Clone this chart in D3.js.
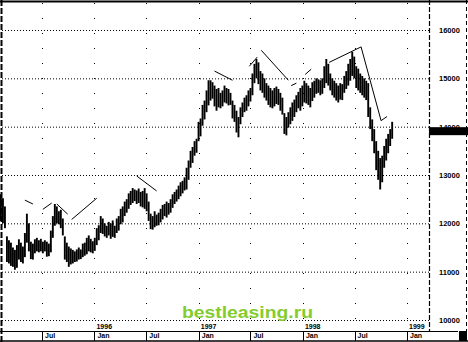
<!doctype html>
<html lang="en">
<head>
<meta charset="utf-8">
<title>Index chart 1995-1998</title>
<script src="https://d3js.org/d3.v7.min.js"></script>
<style>
  body { margin: 0; background: #fff; }
  svg text { font-family: "Liberation Sans", Arial, sans-serif; }
</style>
</head>
<body>
<svg width="468" height="342"></svg>
<script>
// weekly bars, first week starts here
var firstWeek = new Date(1995, 1, 4);

var highs = [12600,12520,12350,11730,11650,11600,11500,11450,11550,11670,
  11600,11520,11800,12200,12000,11620,11580,11670,11700,11650,
  11680,11620,11650,11620,11580,11850,12150,12400,12350,12250,
  12280,12100,11730,11600,11520,11480,11450,11420,11460,11500,
  11460,11580,11600,11700,11750,11680,11630,11700,11900,11960,
  12150,12100,12000,11950,12030,12000,12060,11950,12100,12150,
  12300,12350,12450,12500,12620,12670,12730,12700,12680,12720,
  12650,12670,12730,12620,12450,12200,12150,12250,12180,12220,
  12300,12380,12400,12450,12420,12500,12600,12650,12700,12780,
  12850,12880,12950,13150,13300,13500,13580,13700,13750,14100,
  14170,14450,14540,14750,14960,14960,14920,14850,14780,14800,
  14700,14750,14850,14800,14780,14700,14540,14450,14330,14200,
  14400,14500,14600,14650,14750,14800,15100,15300,15400,15330,
  15150,15100,15000,14900,14850,14800,14750,14800,14830,14780,
  14700,14600,14280,14200,14300,14400,14500,14560,14650,14720,
  14800,14850,14950,14900,14850,14800,14920,14950,15000,14980,
  14960,15000,15250,15400,15300,15100,15000,14950,14900,14850,
  14900,14880,15050,15150,15300,15400,15550,15450,15250,15200,
  15100,15050,15000,14950,14900,14400,14150,13950,13700,13500,
  13350,13400,13600,13750,13850,13950,14100];

var lows = [12050,12000,11900,11200,11170,11120,11100,11040,11080,11250,
  11200,11170,11300,11600,11420,11260,11250,11380,11420,11400,
  11420,11380,11420,11310,11320,11400,11700,11950,12000,11980,
  11900,11750,11250,11200,11100,11150,11170,11200,11210,11250,
  11260,11300,11330,11360,11420,11400,11380,11430,11550,11650,
  11800,11780,11730,11700,11750,11680,11720,11700,11800,11850,
  11980,12020,12150,12220,12300,12380,12420,12460,12400,12420,
  12350,12330,12300,12250,12050,11880,11870,11920,11950,11960,
  12020,12080,12150,12120,12180,12220,12320,12400,12450,12500,
  12560,12620,12680,12700,12900,13150,13250,13400,13460,13700,
  13800,14020,14150,14300,14440,14540,14580,14420,14330,14400,
  14380,14420,14500,14480,14440,14450,14170,14100,13880,13780,
  14050,14200,14300,14330,14420,14520,14650,14900,15000,14880,
  14750,14700,14600,14540,14450,14400,14380,14420,14470,14450,
  14330,14250,13850,13820,13980,14050,14120,14200,14300,14380,
  14330,14420,14500,14480,14450,14400,14530,14600,14680,14700,
  14650,14680,14800,14900,14850,14750,14650,14600,14540,14500,
  14560,14550,14700,14780,14850,14950,15050,15000,14800,14750,
  14700,14650,14600,14550,14200,13950,13700,13450,13100,12900,
  12700,12850,13150,13300,13450,13600,13750];

// hand drawn trend lines: [week, price, week, price]
var trendLines = [
  [12, 12480, 16, 12400],
  [21, 12290, 25.5, 12420],
  [28, 12400, 33.5, 12190],
  [35.5, 12080, 48, 12520],
  [68, 12980, 78, 12670],
  [107, 15150, 116, 14960],
  [124.5, 15250, 128.5, 15440],
  [130.5, 15580, 144, 14960],
  [145.5, 14850, 148, 14900],
  [152.5, 15080, 155.5, 15190],
  [164.5, 15330, 180.5, 15650],
  [180.5, 15650, 190.5, 14125],
  [190.5, 14125, 193.5, 14210]
];

var yTicks = [10000, 11000, 12000, 13000, 14000, 15000, 16000];
var lastPrice = 14000;
var halfYears = [new Date(1995,6,1), new Date(1996,0,1), new Date(1996,6,1), new Date(1997,0,1),
  new Date(1997,6,1), new Date(1998,0,1), new Date(1998,6,1), new Date(1999,0,1)];
var monthLabels = ["Jul", "Jan", "Jul", "Jan", "Jul", "Jan", "Jul", "Jan"];
var yearLabels = ["", "1996", "", "1997", "", "1998", "", "1999"];

var plotRight = 429;
var x = d3.scaleTime().domain([new Date(1995,6,1), new Date(1999,0,1)]).range([42, 407]);
var y = d3.scaleLinear().domain([10000, 16000]).range([320, 30]);
var weekDate = function(i) { return d3.timeDay.offset(d3.timeWeek.offset(firstWeek, Math.floor(i)), 3 + (i % 1) * 7); };

var svg = d3.select("svg");

// dotted grid
svg.append("g").selectAll("line").data(yTicks).enter().append("line")
  .attr("x1", 2).attr("x2", plotRight)
  .attr("y1", function(d) { return y(d) + 0.5; }).attr("y2", function(d) { return y(d) + 0.5; })
  .attr("stroke", "#000").attr("stroke-width", 1).attr("stroke-dasharray", "1 2");

svg.append("g").selectAll("line").data(halfYears).enter().append("line")
  .attr("x1", function(d) { return Math.round(x(d)) + 0.5; }).attr("x2", function(d) { return Math.round(x(d)) + 0.5; })
  .attr("y1", 3).attr("y2", 322)
  .attr("stroke", "#000").attr("stroke-width", 1).attr("stroke-dasharray", "1 14");

// high-low bars
svg.append("g").selectAll("line").data(highs).enter().append("line")
  .attr("x1", function(d, i) { return x(weekDate(i)); })
  .attr("x2", function(d, i) { return x(weekDate(i)); })
  .attr("y1", function(d) { return y(d); })
  .attr("y2", function(d, i) { return y(lows[i]); })
  .attr("stroke", "#000").attr("stroke-width", 1.9);

// trend lines
svg.append("g").selectAll("line").data(trendLines).enter().append("line")
  .attr("x1", function(d) { return x(weekDate(d[0])); })
  .attr("y1", function(d) { return y(d[1]); })
  .attr("x2", function(d) { return x(weekDate(d[2])); })
  .attr("y2", function(d) { return y(d[3]); })
  .attr("stroke", "#000").attr("stroke-width", 1);

// frame
svg.append("line").attr("x1", 0).attr("x2", 468).attr("y1", 1.5).attr("y2", 1.5)
  .attr("stroke", "#000").attr("stroke-width", 2);
svg.append("line").attr("x1", 1.5).attr("x2", 1.5).attr("y1", 0).attr("y2", 342)
  .attr("stroke", "#000").attr("stroke-width", 2).attr("stroke-dasharray", "6 2");
svg.append("line").attr("x1", plotRight + 0.5).attr("x2", plotRight + 0.5).attr("y1", 0).attr("y2", 332)
  .attr("stroke", "#000").attr("stroke-width", 1.2).attr("stroke-dasharray", "5 2");
svg.append("line").attr("x1", 466.5).attr("x2", 466.5).attr("y1", 0).attr("y2", 342)
  .attr("stroke", "#000").attr("stroke-width", 1).attr("stroke-dasharray", "4 3");

// right price axis
var yAxis = svg.append("g").attr("transform", "translate(" + plotRight + ",0)")
  .call(d3.axisRight(y).tickValues(yTicks).tickFormat(d3.format("d")).tickSize(0).tickPadding(10));
yAxis.select(".domain").remove();
yAxis.selectAll("text").attr("font-size", "7.5px").attr("font-weight", "bold").attr("fill", "#000");

// last price marker, label peeks out above it
svg.insert("rect", "g:last-of-type").attr("x", plotRight).attr("y", y(lastPrice) + 0.5).attr("width", 468 - plotRight).attr("height", 8)
  .attr("fill", "#000");

// time axis rows
svg.append("line").attr("x1", 0).attr("x2", 458).attr("y1", 331.5).attr("y2", 331.5)
  .attr("stroke", "#000").attr("stroke-width", 1);
svg.append("line").attr("x1", 0).attr("x2", 468).attr("y1", 341).attr("y2", 341)
  .attr("stroke", "#000").attr("stroke-width", 1.5);

var xg = svg.append("g");
xg.selectAll(".sep").data(halfYears).enter().append("line")
  .attr("x1", function(d) { return Math.round(x(d)) + 0.5; }).attr("x2", function(d) { return Math.round(x(d)) + 0.5; })
  .attr("y1", 331).attr("y2", 341).attr("stroke", "#000");
xg.selectAll(".mon").data(halfYears).enter().append("text")
  .attr("x", function(d) { return x(d) + 3; }).attr("y", 338)
  .attr("font-size", "7px").attr("font-weight", "bold")
  .text(function(d, i) { return monthLabels[i]; });
xg.selectAll(".yr").data(halfYears).enter().append("text")
  .attr("x", function(d) { return x(d) + 2; }).attr("y", 329)
  .attr("font-size", "7px").attr("font-weight", "bold")
  .text(function(d, i) { return yearLabels[i]; });

svg.append("rect").attr("x", 459).attr("y", 331).attr("width", 8).attr("height", 10).attr("fill", "#000");

// watermark
svg.append("text").attr("x", 182).attr("y", 318)
  .attr("font-family", "'DejaVu Sans', sans-serif").attr("font-weight", "bold")
  .attr("font-size", "16px").attr("fill", "#84cc2e")
  .attr("textLength", 131).attr("lengthAdjust", "spacingAndGlyphs")
  .text("bestleasing.ru");
</script>
</body>
</html>
